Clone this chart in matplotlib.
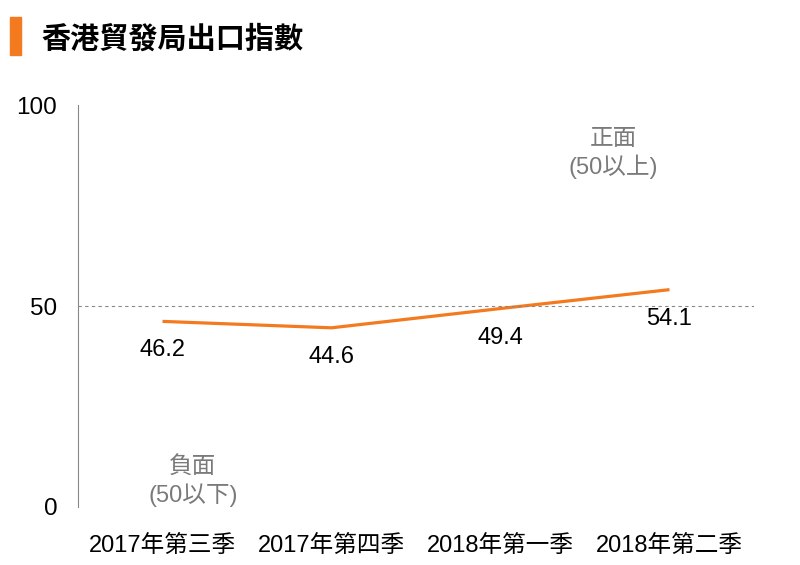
import matplotlib
matplotlib.use("Agg")
import matplotlib.pyplot as plt
from matplotlib.patches import Rectangle

plt.rcParams['font.family'] = ['Liberation Sans', 'Noto Sans CJK TC', 'DejaVu Sans']

# 數據
quarters = ['2017年第三季', '2017年第四季', '2018年第一季', '2018年第二季']
index_values = [46.2, 44.6, 49.4, 54.1]
y_ticks = [0, 50, 100]

orange = '#F47A20'

fig = plt.figure(figsize=(8, 5.65), dpi=100, facecolor='white')
ax = fig.add_axes([0.0975, 0.1027, 0.845, 0.711])

x = list(range(len(quarters)))
ax.plot(x, index_values, color=orange, lw=2.3, solid_capstyle='butt')
ax.axhline(50, color='#888888', lw=0.8, ls=(0, (3, 3)))

for xi, v in zip(x, index_values):
    ax.annotate('%.1f' % v, (xi, v), xytext=(0, -13), textcoords='offset points',
                ha='center', va='top', fontsize=17, color='black')

ax.set_xlim(-0.5, len(quarters) - 0.5)
ax.set_ylim(0, 100)
ax.set_yticks(y_ticks)
ax.set_xticks(x)
ax.set_xticklabels(quarters, fontsize=17)
ax.tick_params(axis='y', length=0, labelsize=17.5, pad=15)
ax.tick_params(axis='x', length=0, pad=20)
for s in ['top', 'right', 'bottom']:
    ax.spines[s].set_visible(False)
ax.spines['left'].set_color('#888888')
ax.spines['left'].set_linewidth(0.8)

# 正面 / 負面 標示
ax.text(2.67, 88.0, '正面\n(50以上)', ha='center', va='center', fontsize=17,
        color='#7a7a7a', linespacing=1.25)
ax.text(0.18, 6.3, '負面\n(50以下)', ha='center', va='center', fontsize=17,
        color='#7a7a7a', linespacing=1.25)

# 標題
fig.patches.append(Rectangle((0.0125, 0.903), 0.014, 0.067, transform=fig.transFigure,
                             color=orange))
fig.text(0.052, 0.931, '香港貿發局出口指數', fontsize=21, fontweight='bold',
         ha='left', va='center')

fig.savefig('out.png', dpi=100, facecolor='white')
